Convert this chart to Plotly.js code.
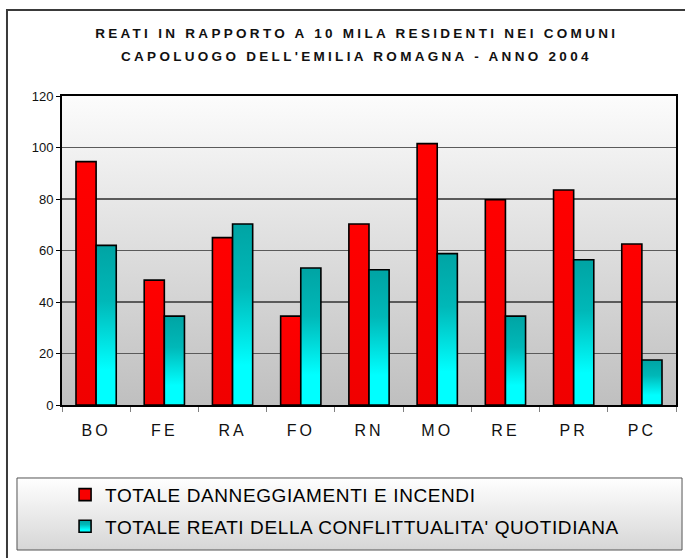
<!DOCTYPE html>
<html>
<head>
<meta charset="utf-8">
<script src="https://cdn.plot.ly/plotly-3.0.1.min.js"></script>
<style>
  html, body { margin: 0; padding: 0; background: #ffffff; }
  #chart { width: 685px; height: 558px; }
  .gtitle, .annotation-text { letter-spacing: 3.3px; }
  .xtick text { letter-spacing: 3px; }
  .legendtext { letter-spacing: 0.6px; }
</style>
</head>
<body>
<svg width="0" height="0" style="position:absolute">
  <defs>
    <linearGradient id="cyanGrad" x1="0" y1="0" x2="0" y2="1">
      <stop offset="0" stop-color="#00a4a4"/>
      <stop offset="0.35" stop-color="#00b8b8"/>
      <stop offset="0.78" stop-color="#00ffff"/>
      <stop offset="1" stop-color="#00ffff"/>
    </linearGradient>
    <linearGradient id="redGrad" x1="0" y1="0" x2="0" y2="1">
      <stop offset="0" stop-color="#ff0000"/>
      <stop offset="1" stop-color="#f00000"/>
    </linearGradient>
  </defs>
</svg>
<div id="chart"></div>
<script>
// ---- Data ----
const categories = ['BO', 'FE', 'RA', 'FO', 'RN', 'MO', 'RE', 'PR', 'PC'];
const danneggiamenti = [94.5, 48.5, 65, 34.5, 70.3, 101.5, 79.7, 83.5, 62.5];
const conflittualita = [62, 34.5, 70.3, 53.2, 52.5, 58.8, 34.5, 56.4, 17.5];
const seriesNames = ['TOTALE DANNEGGIAMENTI E INCENDI', "TOTALE REATI DELLA CONFLITTUALITA' QUOTIDIANA"];
const yTicks = [0, 20, 40, 60, 80, 100, 120];
const titleLine1 = "REATI IN RAPPORTO A 10 MILA RESIDENTI NEI COMUNI";
const titleLine2 = "CAPOLUOGO DELL'EMILIA ROMAGNA - ANNO 2004";

function gradientUri(top, bottom) {
  const svg = '<svg xmlns="http://www.w3.org/2000/svg" width="10" height="100" preserveAspectRatio="none">' +
    '<defs><linearGradient id="g" x1="0" y1="0" x2="0" y2="1">' +
    '<stop offset="0" stop-color="' + top + '"/><stop offset="1" stop-color="' + bottom + '"/>' +
    '</linearGradient></defs><rect width="10" height="100" fill="url(#g)"/></svg>';
  return 'data:image/svg+xml;utf8,' + encodeURIComponent(svg);
}

const font = 'Arial, "Liberation Sans", sans-serif';
const titleFont = { family: font, size: 13.5, color: '#111111', weight: 'bold' };

const traces = [
  {
    type: 'bar', x: categories, y: danneggiamenti, name: seriesNames[0],
    marker: { color: '#f80000', line: { color: '#000000', width: 1.6 } },
    legendgroup: 'a'
  },
  {
    type: 'bar', x: categories, y: conflittualita, name: seriesNames[1],
    marker: { color: '#00d0d0', line: { color: '#000000', width: 1.6 } },
    legendgroup: 'b'
  }
];

// plot area: x 62..676, y 96..405
const layout = {
  width: 685, height: 558,
  margin: { l: 62, r: 9, t: 96, b: 153, autoexpand: false },
  paper_bgcolor: '#ffffff',
  plot_bgcolor: 'rgba(0,0,0,0)',
  font: { family: font, color: '#111111' },
  title: {
    text: titleLine1,
    font: titleFont,
    x: 0.48, xanchor: 'center', xref: 'paper',
    y: 0.9409, yanchor: 'middle'
  },
  annotations: [
    {
      text: titleLine2, font: titleFont, showarrow: false,
      xref: 'paper', yref: 'paper', x: 0.48, y: 1.1294,
      xanchor: 'center', yanchor: 'middle'
    }
  ],
  barmode: 'group',
  bargap: 0.41,
  bargroupgap: 0,
  showlegend: true,
  legend: {
    x: 0.005, xanchor: 'left', y: -0.229, yanchor: 'top',
    bgcolor: 'rgba(0,0,0,0)', borderwidth: 0,
    font: { family: font, size: 19, color: '#000000' },
    traceorder: 'grouped', tracegroupgap: 4
  },
  xaxis: {
    type: 'category',
    showline: true, linecolor: '#000000', linewidth: 2, mirror: true,
    ticks: 'outside', ticklen: 5, tickcolor: '#808080', tickwidth: 1,
    tickson: 'boundaries',
    ticklabelstandoff: 10,
    tickfont: { family: font, size: 16, color: '#111111' },
    showgrid: false, zeroline: false
  },
  yaxis: {
    range: [0, 120], tickvals: yTicks,
    showline: true, linecolor: '#000000', linewidth: 2, mirror: true,
    ticks: 'outside', ticklen: 4, tickcolor: '#000000', tickwidth: 1,
    tickfont: { family: font, size: 13, color: '#111111' },
    showgrid: true, gridcolor: '#5a5a5a', gridwidth: 1.2,
    zeroline: false, fixedrange: true
  },
  images: [
    {
      source: gradientUri('#fcfcfc', '#bfbfbf'),
      xref: 'paper', yref: 'paper', x: 0, y: 1, sizex: 1, sizey: 1,
      xanchor: 'left', yanchor: 'top', sizing: 'stretch', layer: 'below'
    },
    {
      source: gradientUri('#ffffff', '#d6d6d6'),
      xref: 'paper', yref: 'paper', x: -0.0733, y: -0.2362, sizex: 1.0831, sizey: 0.2331,
      xanchor: 'left', yanchor: 'top', sizing: 'stretch', layer: 'below'
    }
  ],
  shapes: [
    {
      type: 'rect', xref: 'paper', yref: 'paper',
      x0: -0.0733, x1: 1.0098, y0: -0.4693, y1: -0.2362,
      line: { color: '#555555', width: 1 }, fillcolor: 'rgba(0,0,0,0)'
    },
    {
      type: 'rect', xref: 'paper', yref: 'paper',
      x0: -0.0896, x1: 1.06, y0: -0.56, y1: 1.2783,
      line: { color: '#3a3a3a', width: 2 }, fillcolor: 'rgba(0,0,0,0)'
    }
  ]
};

Plotly.newPlot('chart', traces, layout, { staticPlot: true }).then(function (gd) {
  const barTraces = gd.querySelectorAll('.barlayer .trace');
  if (barTraces.length > 1) {
    barTraces[0].querySelectorAll('path').forEach(function (p) { p.style.fill = 'url(#redGrad)'; });
    barTraces[1].querySelectorAll('path').forEach(function (p) { p.style.fill = 'url(#cyanGrad)'; });
  }
  const legendTraces = gd.querySelectorAll('.legend .traces');
  if (legendTraces.length > 1) {
    legendTraces[1].querySelectorAll('.legendpoints path').forEach(function (p) { p.style.fill = 'url(#cyanGrad)'; });
  }
});
</script>
</body>
</html>
